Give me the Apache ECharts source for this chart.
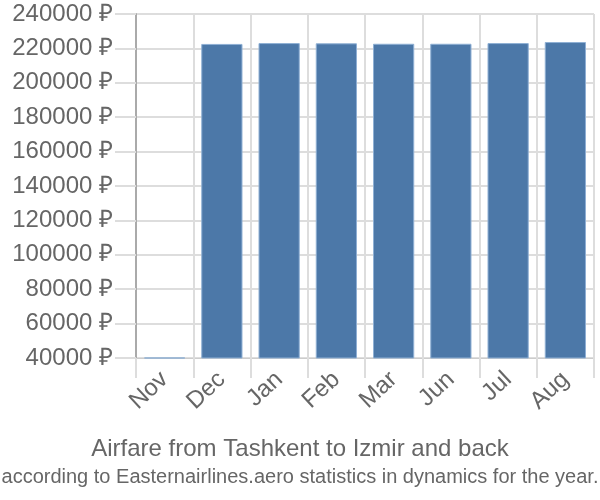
<!DOCTYPE html>
<html>
<head>
<meta charset="utf-8">
<script src="https://cdn.jsdelivr.net/npm/echarts@6/dist/echarts.min.js"></script>
<style>html,body{margin:0;padding:0;background:#fff}#c{width:600px;height:500px}</style>
</head>
<body>
<div id="c"></div>
<script>
var categories = ['Nov', 'Dec', 'Jan', 'Feb', 'Mar', 'Jun', 'Jul', 'Aug'];
var prices = [40300, 222600, 223100, 222950, 222700, 222700, 223100, 223700];
var yMin = 40000, yMax = 240000, yStep = 20000;
var titleText = 'Airfare from Tashkent to Izmir and back';
var subText = 'according to Easternairlines.aero statistics in dynamics for the year.';

var chart = echarts.init(document.getElementById('c'), null, {renderer: 'canvas'});
var font = '"Liberation Sans", Arial, sans-serif';
chart.setOption({
  animation: false,
  backgroundColor: '#fff',
  title: {
    text: titleText,
    subtext: subText,
    left: 'center',
    top: 432,
    itemGap: 6,
    textStyle: {fontFamily: font, fontSize: 24, fontWeight: 'normal', color: '#666'},
    subtextStyle: {fontFamily: font, fontSize: 20, color: '#666'}
  },
  grid: {left: 136, right: 6, top: 14, bottom: 142, containLabel: false},
  xAxis: {
    type: 'category',
    data: categories,
    axisLine: {show: true, lineStyle: {color: '#ccc'}},
    axisTick: {show: true, length: 20, alignWithLabel: false, lineStyle: {color: '#ddd', width: 2}},
    splitLine: {show: true, lineStyle: {color: '#ddd', width: 2}},
    axisLabel: {rotate: 43, margin: 18, fontFamily: font, fontSize: 24, color: '#666'}
  },
  yAxis: {
    type: 'value',
    min: yMin, max: yMax, interval: yStep,
    axisLine: {show: true, lineStyle: {color: '#aaa', width: 2}},
    axisTick: {show: true, length: 21, lineStyle: {color: '#ddd', width: 2}},
    splitLine: {show: true, lineStyle: {color: '#ddd', width: 2}},
    axisLabel: {margin: 23, fontFamily: font, fontSize: 24, color: '#666',
      formatter: function (v) { return v + ' ₽'; }}
  },
  series: [{
    type: 'bar',
    data: prices,
    barCategoryGap: '28%',
    itemStyle: {color: '#4c78a8', borderColor: '#8fb0d4', borderWidth: 1}
  }]
});
</script>
</body>
</html>
